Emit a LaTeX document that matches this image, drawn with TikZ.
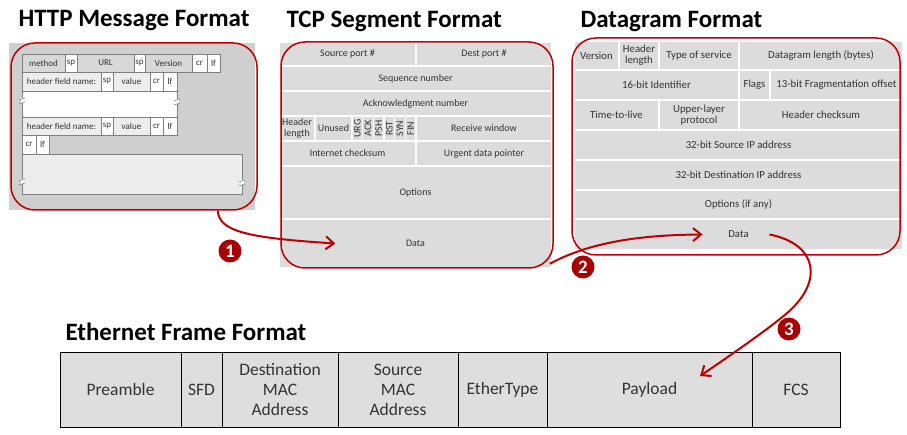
\documentclass[tikz,border=0pt]{standalone}
\usepackage{fontspec}
\setmainfont{Carlito}
\usetikzlibrary{arrows.meta}
\definecolor{framered}{HTML}{C00000}
\definecolor{dotred}{HTML}{A80000}
\definecolor{httpbg}{HTML}{CFCFCF}
\definecolor{httpcell}{HTML}{D8D8D8}
\definecolor{httplight}{HTML}{EDEDED}
\definecolor{httpline}{HTML}{7F7F7F}
\definecolor{cellgray}{HTML}{DCDCDC}
\definecolor{ethgray}{HTML}{DEDEDE}
\definecolor{textgray}{HTML}{333333}
\begin{document}
\begin{tikzpicture}[x=1pt,y=-1pt,
	heading/.style={anchor=base west,font=\bfseries\fontsize{25}{27}\selectfont},
	seg/.style={fill=cellgray,draw=white,line width=1.5pt},
	segtext/.style={font=\fontsize{10}{10.5}\selectfont,align=center,inner sep=0pt,text=textgray},
	dgtext/.style={segtext,font=\fontsize{10.8}{11}\selectfont},
	flagtext/.style={segtext,rotate=90,font=\fontsize{10}{10}\selectfont},
	hbox/.style={draw=httpline,line width=0.7pt},
	htext/.style={font=\fontsize{9}{9}\selectfont,inner sep=0pt,text=textgray},
	eth/.style={fill=ethgray,draw=black,line width=1pt},
	ethtext/.style={font=\fontsize{17.5}{20}\selectfont,align=center,inner sep=0pt,text=black!80},
	frame/.style={draw=framered,line width=1.5pt,rounded corners=24pt,inner sep=0pt},
	flow/.style={draw=framered,line width=2pt,-{Straight Barb[length=8pt,width=13pt]}},
	stepnum/.style={circle,fill=dotred,text=white,inner sep=0pt,minimum size=23pt,font=\bfseries\fontsize{19}{19}\selectfont}]
	\useasboundingbox (0,0) rectangle (907,435);
	% HTTP message
	\node[heading] (httptitle) at (15,27) {HTTP Message Format};
	\fill[httpbg] (9,43) rectangle (255,210);
	\draw[hbox,fill=httpcell] (22,54) rectangle (65,72) node[htext,midway] (method) {method};
	\draw[hbox,fill=white] (65,54) rectangle (77,72) node[htext,midway] {sp};
	\draw[hbox,fill=httpcell] (77,54) rectangle (134,72) node[htext,midway] (url) {URL};
	\draw[hbox,fill=white] (134,54) rectangle (145,72) node[htext,midway] {sp};
	\draw[hbox,fill=httpcell] (145,54) rectangle (192,72) node[htext,midway] (version) {Version};
	\draw[hbox,fill=white] (192,54) rectangle (207,72) node[htext,midway] {cr};
	\draw[hbox,fill=white] (207,54) rectangle (220,72) node[htext,midway] {lf};
	\foreach \y/\h in {72/91,117/135}{
		\draw[hbox,fill=httplight] (22,\y) rectangle (101,\h) node[htext,midway] {header field name:};
		\draw[hbox,fill=white] (101,\y) rectangle (113,\h) node[htext,midway] {sp};
		\draw[hbox,fill=httplight] (113,\y) rectangle (150,\h) node[htext,midway] {value};
		\draw[hbox,fill=white] (150,\y) rectangle (163,\h) node[htext,midway] {cr};
		\draw[hbox,fill=white] (163,\y) rectangle (177,\h) node[htext,midway] {lf};
	}
	\draw[hbox,fill=white] (22,91) rectangle (177,117);
	\draw[hbox,fill=white] (22,135) rectangle (36,154) node[htext,midway] {cr};
	\draw[hbox,fill=white] (36,135) rectangle (49,154) node[htext,midway] {lf};
	\draw[hbox,fill=httplight] (22,154) rectangle (242,194);
	\foreach \x/\y in {22/101,177/102,22/182,242/183}{
		\fill[white] (\x-1.5,\y-2.5) rectangle (\x+1.5,\y+2.5);
		\draw[httpline,line width=0.6pt] (\x-3,\y-1) -- (\x+3,\y-3) (\x-3,\y+3) -- (\x+3,\y+1);
	}
	\node[frame,minimum width=246pt,minimum height=167pt] (httpframe) at (134,126.5) {};
	% TCP segment
	\node[heading] (tcptitle) at (283,28) {TCP Segment Format};
	\draw[seg] (279,42) rectangle (416,66) node[segtext,midway] (srcport) {Source port \#};
	\draw[seg] (416,42) rectangle (552,66) node[segtext,midway] (dstport) {Dest port \#};
	\draw[seg] (279,66) rectangle (552,91) node[segtext,midway] (seqnum) {Sequence number};
	\draw[seg] (279,91) rectangle (552,116) node[segtext,midway] (acknum) {Acknowledgment number};
	\draw[seg] (279,116) rectangle (315,141) node[segtext,midway] (hdrlen) {Header\\length};
	\draw[seg] (315,116) rectangle (352,141) node[segtext,midway] (unused) {Unused};
	\foreach \f [count=\i from 0] in {URG,ACK,PSH,RST,SYN,FIN}
		\draw[seg] (352+\i*10.667,116) rectangle (362.667+\i*10.667,141) node[flagtext,midway] {\f};
	\draw[seg] (416,116) rectangle (552,141) node[segtext,midway] (rcvwin) {Receive window};
	\draw[seg] (279,141) rectangle (416,166) node[segtext,midway] (tcpsum) {Internet checksum};
	\draw[seg] (416,141) rectangle (552,166) node[segtext,midway] (urgptr) {Urgent data pointer};
	\draw[seg] (279,166) rectangle (552,219) node[segtext,midway] (tcpopt) {Options};
	\draw[seg] (279,219) rectangle (552,268) node[segtext,midway] (tcpdata) {Data};
	\node[frame,minimum width=272pt,minimum height=226pt] (tcpframe) at (417,155) {};
	% IP datagram
	\node[heading] (dgtitle) at (577,28) {Datagram Format};
	\draw[seg] (574,41) rectangle (619,70) node[dgtext,midway] (ver) {Version};
	\draw[seg] (619,41) rectangle (659,70) node[dgtext,midway] (ihl) {Header\\length};
	\draw[seg] (659,41) rectangle (739,70) node[dgtext,midway] (tos) {Type of service};
	\draw[seg] (739,41) rectangle (903,70) node[dgtext,midway] (dglen) {Datagram length (bytes)};
	\draw[seg] (574,70) rectangle (739,100) node[dgtext,midway] (ident) {16-bit Identifier};
	\draw[seg] (739,70) rectangle (770,100) node[dgtext,midway] (flags) {Flags};
	\draw[seg] (770,70) rectangle (903,100) node[dgtext,midway] (fragoff) {13-bit Fragmentation offset};
	\draw[seg] (574,100) rectangle (659,130) node[dgtext,midway] (ttl) {Time-to-live};
	\draw[seg] (659,100) rectangle (739,130) node[dgtext,midway] (proto) {Upper-layer\\protocol};
	\draw[seg] (739,100) rectangle (903,130) node[dgtext,midway] (dgsum) {Header checksum};
	\draw[seg] (574,130) rectangle (903,160) node[dgtext,midway] (srcip) {32-bit Source IP address};
	\draw[seg] (574,160) rectangle (903,190) node[dgtext,midway] (dstip) {32-bit Destination IP address};
	\draw[seg] (574,190) rectangle (903,219) node[dgtext,midway] (dgopt) {Options (if any)};
	\draw[seg] (574,219) rectangle (903,250) node[dgtext,midway] (dgdata) {Data};
	\node[frame,minimum width=328pt,minimum height=217pt] (dgframe) at (736,146.5) {};
	% Ethernet frame
	\node[heading] (ethtitle) at (62,341) {Ethernet Frame Format};
	\draw[eth] (60,352) rectangle (181,427) node[ethtext,midway] (preamble) {Preamble};
	\draw[eth] (181,352) rectangle (222,427) node[ethtext,midway] (sfd) {SFD};
	\draw[eth] (222,352) rectangle (338,427) node[ethtext,midway] (dstmac) {Destination\\MAC\\Address};
	\draw[eth] (338,352) rectangle (458,427) node[ethtext,midway] (srcmac) {Source\\MAC\\Address};
	\draw[eth] (458,352) rectangle (547,427) node[ethtext,midway] (ethtype) {EtherType};
	\draw[eth] (547,352) rectangle (752,427) node[ethtext,midway] (payload) {Payload};
	\draw[eth] (752,352) rectangle (840,427) node[ethtext,midway] (fcs) {FCS};
	% encapsulation steps
	\coordinate (in3) at (700,376);
	\draw[flow] ([xshift=-40pt]httpframe.south east) .. controls (219,232) and (250,238) .. ([xshift=-70pt]tcpdata.west);
	\draw[flow] ([xshift=-4pt,yshift=5pt]tcpframe.south east) .. controls (585,245) and (630,235) .. ([xshift=-25pt]dgdata.west);
	\draw[flow] ([xshift=20pt]dgdata.east) .. controls (818,244) and (824,282) .. (786,314) .. controls (767,330) and (728,357) .. (in3);
	\node[stepnum] (step1) at (230,251) {1};
	\node[stepnum] (step2) at (583,267) {2};
	\node[stepnum] (step3) at (789,329) {3};
\end{tikzpicture}
\end{document}
